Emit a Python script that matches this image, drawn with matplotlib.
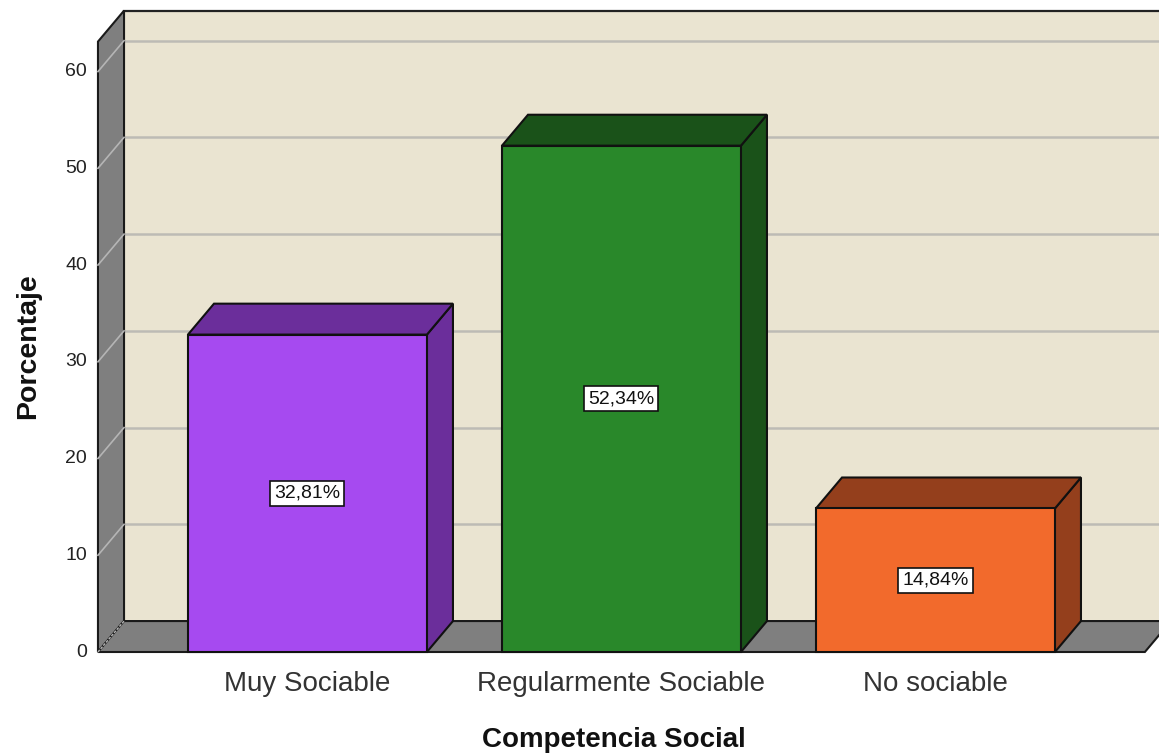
import matplotlib
matplotlib.use("Agg")
import matplotlib.pyplot as plt
from matplotlib.patches import Polygon, Rectangle

# datos del gráfico
categorias = ["Muy Sociable", "Regularmente Sociable", "No sociable"]
porcentajes = [32.81, 52.34, 14.84]
etiquetas = ["32,81%", "52,34%", "14,84%"]
ticks_y = [0, 10, 20, 30, 40, 50, 60]

col_frente = ["#A64AF0", "#29882A", "#F26A2C"]
col_lado = ["#6B2E9B", "#1A5219", "#943F1C"]

plt.rcParams['font.family'] = ['Liberation Sans', 'DejaVu Sans']

fig = plt.figure(figsize=(11.59, 7.53), dpi=100)
ax = fig.add_axes([0, 0, 1, 1])
ax.set_xlim(-0.979, 2.712)
ax.set_ylim(-10.44, 67.4)
ax.axis('off')

# geometría 3D (profundidad en unidades de datos)
dx, dy = 0.083, 3.2
x0, x1 = -0.667, 2.667
ymax = 63.1
ancho = 0.761

# pared trasera
ax.add_patch(Polygon([(x0 + dx, dy), (x1 + dx + 1, dy), (x1 + dx + 1, ymax + dy), (x0 + dx, ymax + dy)],
                     closed=True, facecolor="#EAE4D1", edgecolor="none", zorder=1))
ax.plot([x0 + dx, x1 + dx + 1], [ymax + dy, ymax + dy], color="#222222", lw=1.6, zorder=2)
for v in ticks_y[1:]:
    ax.plot([x0 + dx, x1 + dx + 1], [v + dy, v + dy], color="#BDBBB5", lw=1.8, zorder=2)

# pared izquierda
ax.add_patch(Polygon([(x0, 0), (x0 + dx, dy), (x0 + dx, ymax + dy), (x0, ymax)],
                     closed=True, facecolor="#7F7F7F", edgecolor="#1A1A1A", lw=1.5, zorder=3))
for v in ticks_y[1:]:
    ax.plot([x0, x0 + dx], [v, v + dy], color="#B5B5B5", lw=1.2, zorder=3)

# suelo
ax.add_patch(Polygon([(x0, 0), (x1, 0), (x1 + dx, dy), (x0 + dx, dy)],
                     closed=True, facecolor="#7F7F7F", edgecolor="#1A1A1A", lw=1.5, zorder=3))
ax.plot([x0, x0 + dx], [0, dy], color="#B5B5B5", lw=1.0, ls=(0, (2, 1)), zorder=4)

# barras
for i, (val, et) in enumerate(zip(porcentajes, etiquetas)):
    a, b = i - ancho / 2, i + ancho / 2
    ax.add_patch(Polygon([(b, 0), (b + dx, dy), (b + dx, val + dy), (b, val)],
                         closed=True, facecolor=col_lado[i], edgecolor="#111111", lw=1.5, zorder=5))
    ax.add_patch(Polygon([(a, val), (b, val), (b + dx, val + dy), (a + dx, val + dy)],
                         closed=True, facecolor=col_lado[i], edgecolor="#111111", lw=1.5, zorder=5))
    ax.add_patch(Rectangle((a, 0), ancho, val, facecolor=col_frente[i], edgecolor="#111111", lw=1.5, zorder=6))
    ax.text(i, val / 2, et, ha='center', va='center', fontsize=14, color="#111111", zorder=7,
            bbox=dict(boxstyle='square,pad=0.2', facecolor='white', edgecolor='#111111', lw=1.2))

# ejes
for v in ticks_y:
    ax.text(x0 - 0.035, v, str(v), ha='right', va='center', fontsize=14, color="#222222")
for i, c in enumerate(categorias):
    ax.text(i, -3.3, c, ha='center', va='center', fontsize=20, color="#333333")

fig.text(28 / 1159, 1 - 346 / 753, "Porcentaje", rotation=90, ha='center', va='center',
         fontsize=20.5, fontweight='bold', color="#111111")
fig.text(614 / 1159, 1 - 740 / 753, "Competencia Social", ha='center', va='center',
         fontsize=20, fontweight='bold', color="#111111")

fig.savefig("out.png", dpi=100)
